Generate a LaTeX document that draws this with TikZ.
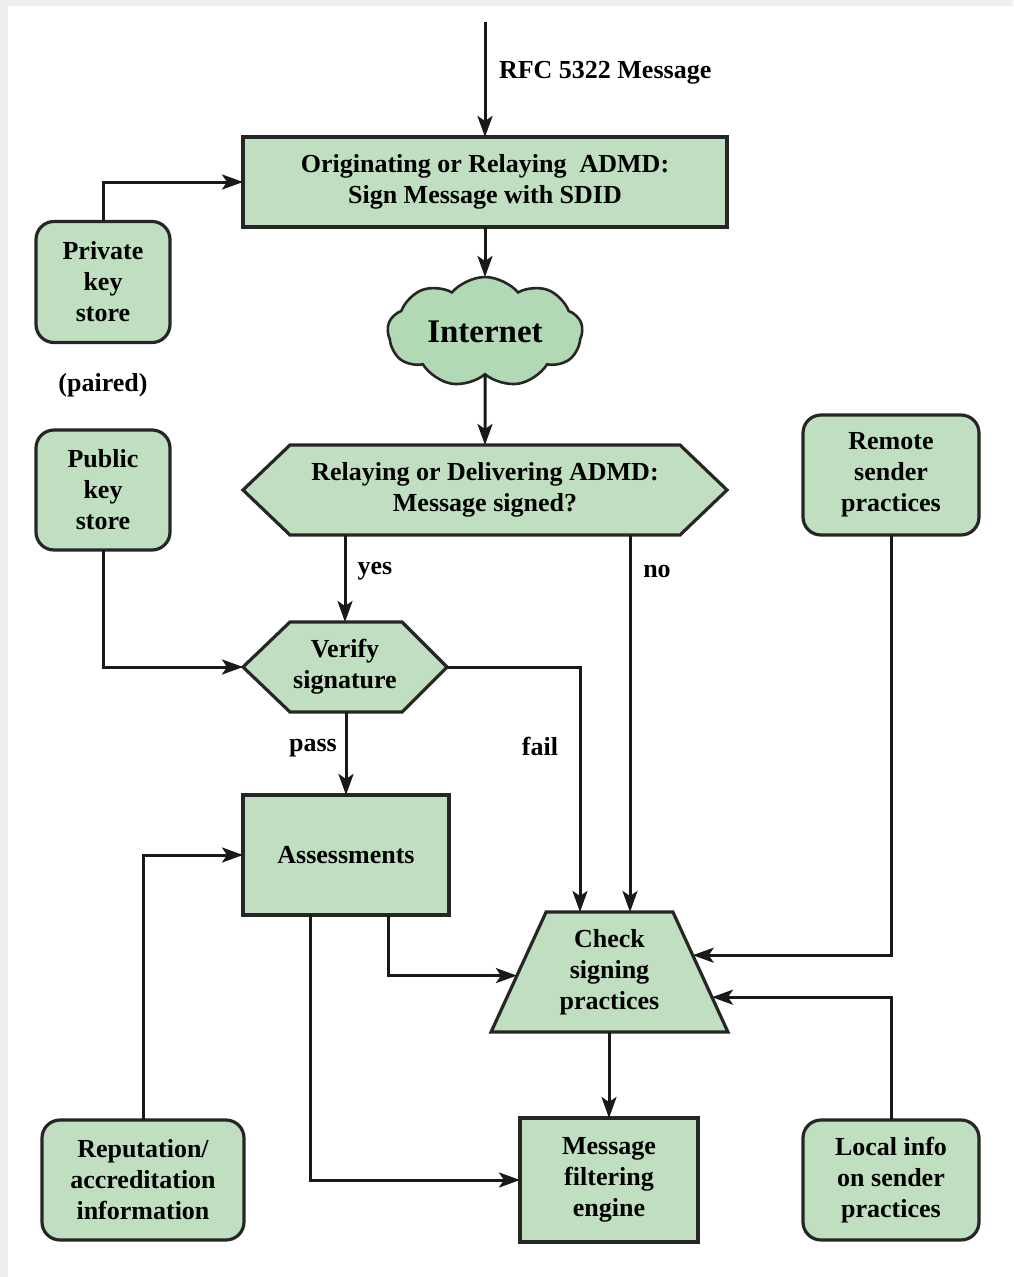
\documentclass[tikz,border=0pt]{standalone}
\usepackage{fontspec}
\setmainfont{Liberation Serif}
\usetikzlibrary{arrows.meta,shapes.geometric,shapes.symbols,calc,backgrounds}

\definecolor{boxgreen}{HTML}{C0DFC0}
\definecolor{cloudgreen}{HTML}{B2D9B6}
\definecolor{pagegray}{HTML}{EFEFEF}

\begin{document}
\begin{tikzpicture}[x=1pt,y=-1pt,
  every node/.style={font=\fontsize{26}{31}\selectfont\bfseries, align=center,
                     inner sep=0pt, outer sep=0pt, text=black},
  box/.style={draw=black!85, line width=3.2pt, fill=boxgreen},
  rbox/.style={box, rounded corners=18pt},
  conn/.style={line width=3pt, draw=black!90},
  arr/.style={conn, -{Stealth[length=21pt,width=15pt,inset=5pt]}},
  hexpath/.style={box, line join=miter}
]
\useasboundingbox (0,0) rectangle (1013,1277);
\begin{scope}[on background layer]
  \fill[pagegray] (0,0) rectangle (1013,1277);
  \fill[white] (8,6) rectangle (1013,1277);
\end{scope}

% main flow
\node[box, minimum width=484, minimum height=90] (orig) at (485,182)
  {Originating or Relaying\ \ ADMD:\\Sign Message with SDID};
\node[cloud, cloud puffs=9, cloud puff arc=100, cloud ignores aspect,
      draw=black!85, line width=2.6pt, fill=cloudgreen,
      minimum width=195, minimum height=110,
      font=\fontsize{33}{36}\selectfont\bfseries] (inet) at (485,332) {Internet};
\node[minimum width=484, minimum height=90] (hex1) at (485,490)
  {Relaying or Delivering ADMD:\\Message signed?};
\node[minimum width=204, minimum height=90] (verify) at (345,667)
  {Verify\\signature};
\node[box, minimum width=206, minimum height=120] (assess) at (346,855) {Assessments};
\node[box, trapezium, trapezium stretches=true,
      trapezium left angle=63.2, trapezium right angle=63.2,
      minimum width=237, minimum height=120] (check) at (609.5,972)
  {Check\\signing\\practices};
\node[box, minimum width=178, minimum height=124] (filter) at (609,1180)
  {Message\\filtering\\engine};

% side stores
\node[rbox, minimum width=134, minimum height=121] (priv) at (103,282) {Private\\key\\store};
\node (paired) at (103,385) {(paired)};
\node[rbox, minimum width=134, minimum height=120] (pub) at (103,490) {Public\\key\\store};
\node[rbox, minimum width=176, minimum height=120] (remote) at (891,475) {Remote\\sender\\practices};
\node[rbox, minimum width=176, minimum height=120] (local) at (891,1180) {Local info\\on sender\\practices};
\node[rbox, minimum width=202, minimum height=120] (reput) at (143,1180) {Reputation/\\accreditation\\information};

% hexagonal outlines behind the decision texts
\begin{scope}[on background layer]
  \draw[hexpath] (hex1.west) -- ([xshift=47pt]hex1.north west) -- ([xshift=-47pt]hex1.north east)
    -- (hex1.east) -- ([xshift=-47pt]hex1.south east) -- ([xshift=47pt]hex1.south west) -- cycle;
  \draw[hexpath] (verify.west) -- ([xshift=47pt]verify.north west) -- ([xshift=-45pt]verify.north east)
    -- (verify.east) -- ([xshift=-45pt]verify.south east) -- ([xshift=47pt]verify.south west) -- cycle;
\end{scope}

% helper points
\coordinate (src) at (485,22);
\coordinate (nox) at (630,0);
\coordinate (failx) at (580,0);
\coordinate (ax1) at (388,0);
\coordinate (ax2) at (310,0);
\coordinate (cl) at ($(check.top left corner)!0.53!(check.bottom left corner)$);
\coordinate (cr1) at ($(check.top right corner)!0.36!(check.bottom right corner)$);
\coordinate (cr2) at ($(check.top right corner)!0.71!(check.bottom right corner)$);

% connectors
\draw[arr] (src) -- (orig.north);
\node[anchor=west] (rfc) at (499,73) {RFC 5322 Message};
\draw[arr] (orig.south) -- (inet);
\draw[arr] (inet) -- (hex1.north);
\draw[arr] (verify.north |- hex1.south) -- (verify.north);
\node (yes) at (375,571) {yes};
\draw[arr] (hex1.south -| nox) -- (check.north -| nox);
\node (no) at (657,571) {no};
\draw[arr] (verify.east) -| (check.north -| failx);
\node (fail) at (540,746) {fail};
\draw[arr] (verify.south -| assess.north) -- (assess.north);
\node (pass) at (313,748) {pass};
\draw[arr] (assess.south -| ax1) |- (cl);
\draw[arr] (assess.south -| ax2) |- (filter.west);
\draw[arr] (check.south -| filter.north) -- (filter.north);
\draw[arr] (remote.south) |- (cr1);
\draw[arr] (local.north) |- (cr2);
\draw[arr] (reput.north) |- (assess.west);
\draw[arr] (priv.north) |- (orig.west);
\draw[arr] (pub.south) |- (verify.west);
\end{tikzpicture}
\end{document}
